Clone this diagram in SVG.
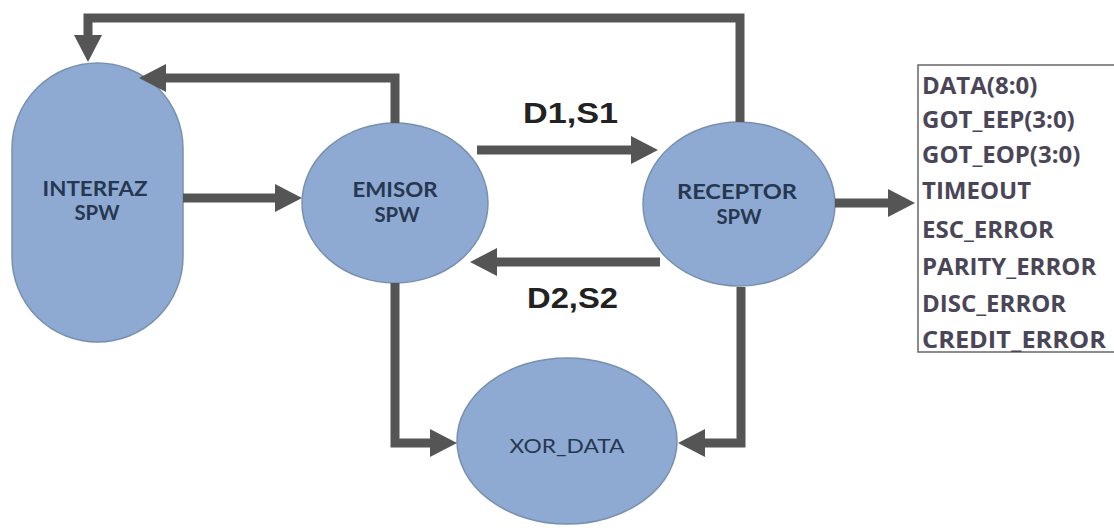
<svg xmlns="http://www.w3.org/2000/svg" width="1114" height="528" viewBox="0 0 1114 528">
<style>
.node{fill:#8eaad2;stroke:#7890b0;stroke-width:1.5}
.nl{font-family:Lato,"Open Sans",sans-serif;font-weight:bold;font-size:21px;fill:#263750;text-anchor:middle}
.conn{fill:none;stroke:#555555;stroke-width:9;stroke-linejoin:miter}
.lbl{font-family:"Liberation Sans",Arial,sans-serif;font-weight:bold;font-size:29px;fill:#222222}
.sig{font-family:"Open Sans","Liberation Sans",sans-serif;font-weight:bold;font-size:24px;fill:#4a4658}
</style>
<defs>
<marker id="ah" markerUnits="userSpaceOnUse" markerWidth="28" markerHeight="28" refX="1" refY="14" orient="auto" overflow="visible">
<path d="M0,0 L27,14 L0,28 z" fill="#555555"/>
</marker>
</defs>
<rect width="1114" height="528" fill="#ffffff"/>
<g id="interfaz">
<rect class="node" x="12" y="63" width="171" height="279" rx="85.5" ry="85.5"/>
<text class="nl" x="95" y="196" textLength="105" lengthAdjust="spacingAndGlyphs">INTERFAZ</text>
<text class="nl" x="97" y="220" textLength="45" lengthAdjust="spacingAndGlyphs">SPW</text>
</g>
<g id="emisor">
<ellipse class="node" cx="395" cy="203" rx="93" ry="80"/>
<text class="nl" x="395" y="197" textLength="85" lengthAdjust="spacingAndGlyphs">EMISOR</text>
<text class="nl" x="397" y="222" textLength="45" lengthAdjust="spacingAndGlyphs">SPW</text>
</g>
<g id="receptor">
<ellipse class="node" cx="739" cy="204" rx="96" ry="82"/>
<text class="nl" x="737" y="199" textLength="120" lengthAdjust="spacingAndGlyphs">RECEPTOR</text>
<text class="nl" x="739" y="224" textLength="45" lengthAdjust="spacingAndGlyphs">SPW</text>
</g>
<g id="xor_data">
<ellipse class="node" cx="567" cy="441" rx="110" ry="83"/>
<text class="nl" x="567" y="453" style="font-weight:normal;font-size:19px" textLength="115" lengthAdjust="spacingAndGlyphs">XOR_DATA</text>
</g>
<g id="signals">
<rect x="918" y="65" width="210" height="287" fill="#ffffff" stroke="#666666" stroke-width="1.5"/>
<text class="sig" x="922" y="94">DATA(8:0)</text>
<text class="sig" x="922" y="128">GOT_EEP(3:0)</text>
<text class="sig" x="922" y="163">GOT_EOP(3:0)</text>
<text class="sig" x="922" y="199">TIMEOUT</text>
<text class="sig" x="922" y="238">ESC_ERROR</text>
<text class="sig" x="922" y="275">PARITY_ERROR</text>
<text class="sig" x="922" y="312">DISC_ERROR</text>
<text class="sig" x="922" y="348" textLength="184" lengthAdjust="spacingAndGlyphs">CREDIT_ERROR</text>
</g>
<g id="connectors">
<path class="conn" d="M740,122 V18 H88 V36" marker-end="url(#ah)"/>
<path class="conn" d="M395,123 V78 H165" marker-end="url(#ah)"/>
<path class="conn" d="M183,198 H276" marker-end="url(#ah)"/>
<path class="conn" d="M477,150 H632" marker-end="url(#ah)"/>
<path class="conn" d="M660,262 H496" marker-end="url(#ah)"/>
<path class="conn" d="M835,203 H889" marker-end="url(#ah)"/>
<path class="conn" d="M395,283 V443 H431" marker-end="url(#ah)"/>
<path class="conn" d="M741,287 V443 H704" marker-end="url(#ah)"/>
<text class="lbl" x="523" y="123" textLength="95" lengthAdjust="spacingAndGlyphs">D1,S1</text>
<text class="lbl" x="527" y="308" textLength="91" lengthAdjust="spacingAndGlyphs">D2,S2</text>
</g>
</svg>
